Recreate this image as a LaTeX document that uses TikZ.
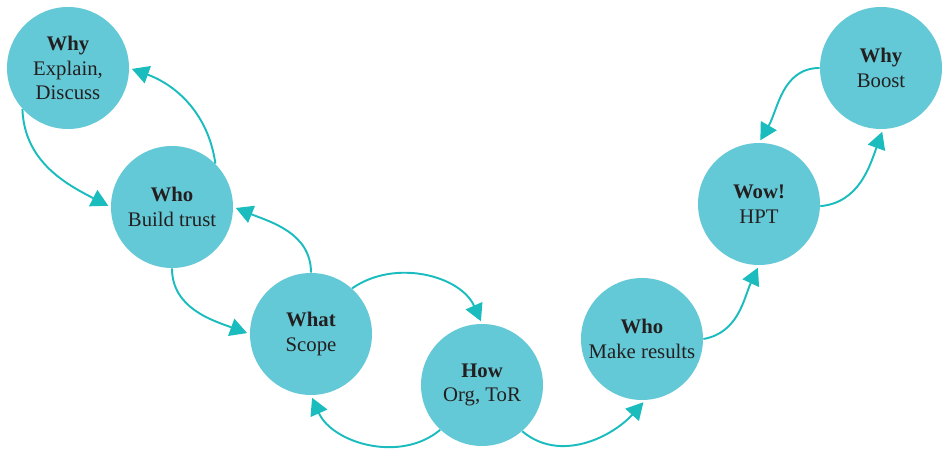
\documentclass[tikz,border=0pt]{standalone}
\usepackage{fontspec}
\setmainfont{Liberation Serif}
\usetikzlibrary{arrows.meta}
\definecolor{bubble}{RGB}{100, 201, 214}
\definecolor{teal}{RGB}{26, 188, 190}
\definecolor{ink}{RGB}{35, 31, 32}

\begin{document}
\begin{tikzpicture}[
        stage/.style={circle, fill=bubble, minimum size=2.44cm, inner sep=0pt,
            align=center, text=ink, font=\fontsize{11.8}{14}\selectfont},
        link/.style={teal, line width=1.1pt, shorten >=1.5pt,
            -{Triangle[length=0.34cm, width=0.36cm]}}
    ]
        \useasboundingbox (0,0) rectangle (18.84,9.04);

        % Stages of the curve
        \node[stage] (why) at (1.36,7.68) {\textbf{Why}\\Explain,\\Discuss};
        \node[stage] (trust) at (3.44,4.90) {\textbf{Who}\\Build trust};
        \node[stage] (what) at (6.22,2.36) {\textbf{What}\\Scope};
        \node[stage] (how) at (9.64,1.34) {\textbf{How}\\Org, ToR};
        \node[stage] (results) at (12.84,2.26) {\textbf{Who}\\Make results};
        \node[stage] (wow) at (15.18,4.96) {\textbf{Wow!}\\HPT};
        \node[stage] (boost) at (17.62,7.68) {\textbf{Why}\\Boost};

        % Down the left side
        \draw[link] (why.222) to[out=-88, in=153] (trust.west);
        \draw[link] (trust.45) to[out=98, in=-20] (why.east);
        \draw[link] (trust.south) to[out=-90, in=160] (what.west);
        \draw[link] (what.north) to[out=90, in=-22] (trust.east);

        % Along the bottom
        \draw[link] (what.48) to[out=35, in=114] (how.north);
        \draw[link] (how.227) to[out=-140, in=-66] (what.south);
        \draw[link] (how.-49) to[out=-40, in=228] (results.-87);

        % Up the right side
        \draw[link] (results.east) to[out=10, in=245] (wow.south);
        \draw[link] (wow.-2) to[out=5, in=250] (boost.-88);
        \draw[link] (boost.west) to[out=180, in=60] (wow.north);
    \end{tikzpicture}
\end{document}
